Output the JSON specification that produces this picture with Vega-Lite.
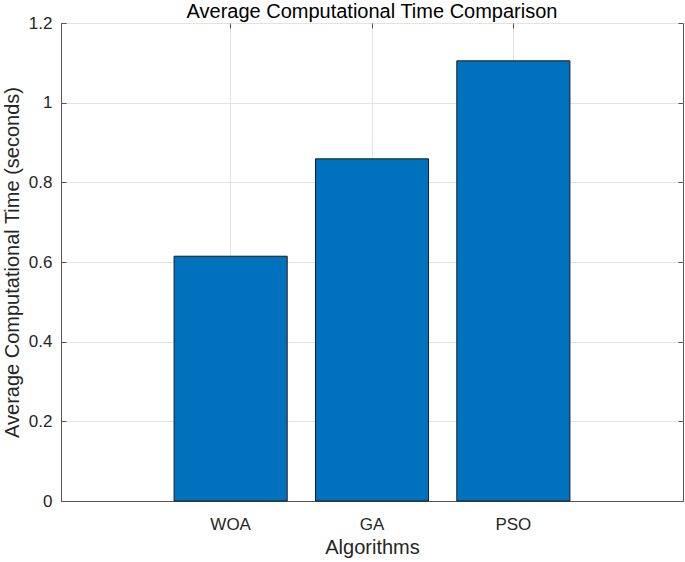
{
  "$schema": "https://vega.github.io/schema/vega-lite/v6.json",
  "width": 622,
  "height": 478,
  "autosize": {"type": "none"},
  "padding": {"left": 61, "top": 23, "right": 2, "bottom": 61},
  "background": "white",
  "title": {
    "text": "Average Computational Time Comparison",
    "font": "Liberation Sans",
    "fontSize": 20,
    "fontWeight": "normal",
    "color": "#000000",
    "anchor": "middle",
    "offset": -8
  },
  "config": {
    "view": {"stroke": "#555555", "strokeWidth": 1},
    "axis": {
      "labelFont": "Liberation Sans",
      "titleFont": "Liberation Sans",
      "labelFontSize": 17,
      "titleFontSize": 20,
      "titleFontWeight": "normal",
      "labelColor": "#262626",
      "titleColor": "#262626",
      "domainColor": "#555555",
      "tickColor": "#555555",
      "gridColor": "#e3e3e3",
      "gridOpacity": 1
    }
  },
  "data": {
    "values": [
      {"algorithm": "WOA", "time": 0.6145},
      {"algorithm": "GA", "time": 0.859},
      {"algorithm": "PSO", "time": 1.105}
    ]
  },
  "layer": [
    {
      "mark": {"type": "bar", "color": "#0072BD", "stroke": "#1a1a1a", "strokeWidth": 1},
      "encoding": {
        "x": {
          "field": "algorithm",
          "type": "nominal",
          "sort": ["WOA", "GA", "PSO"],
          "scale": {"paddingInner": 0.2, "paddingOuter": 0.8},
          "axis": {
            "title": "Algorithms",
            "labelAngle": 0,
            "grid": true,
            "tickSize": -5,
            "labelPadding": 20,
            "titlePadding": 5
          }
        },
        "y": {
          "field": "time",
          "type": "quantitative",
          "scale": {"domain": [0, 1.2], "nice": false, "zero": true},
          "axis": {
            "title": "Average Computational Time (seconds)",
            "values": [0, 0.2, 0.4, 0.6, 0.8, 1, 1.2],
            "format": "~g",
            "grid": true,
            "tickSize": -5,
            "labelPadding": 14,
            "titlePadding": 6
          }
        }
      }
    },
    {
      "mark": {"type": "bar", "opacity": 0},
      "encoding": {
        "x": {
          "field": "algorithm",
          "type": "nominal",
          "sort": ["WOA", "GA", "PSO"],
          "axis": {
            "orient": "top",
            "title": null,
            "labels": false,
            "domain": false,
            "grid": false,
            "tickSize": -5
          }
        },
        "y": {
          "field": "time",
          "type": "quantitative",
          "axis": {
            "orient": "right",
            "title": null,
            "values": [0, 0.2, 0.4, 0.6, 0.8, 1, 1.2],
            "labels": false,
            "domain": false,
            "grid": false,
            "tickSize": -5
          }
        }
      }
    }
  ],
  "resolve": {"axis": {"x": "independent", "y": "independent"}}
}
